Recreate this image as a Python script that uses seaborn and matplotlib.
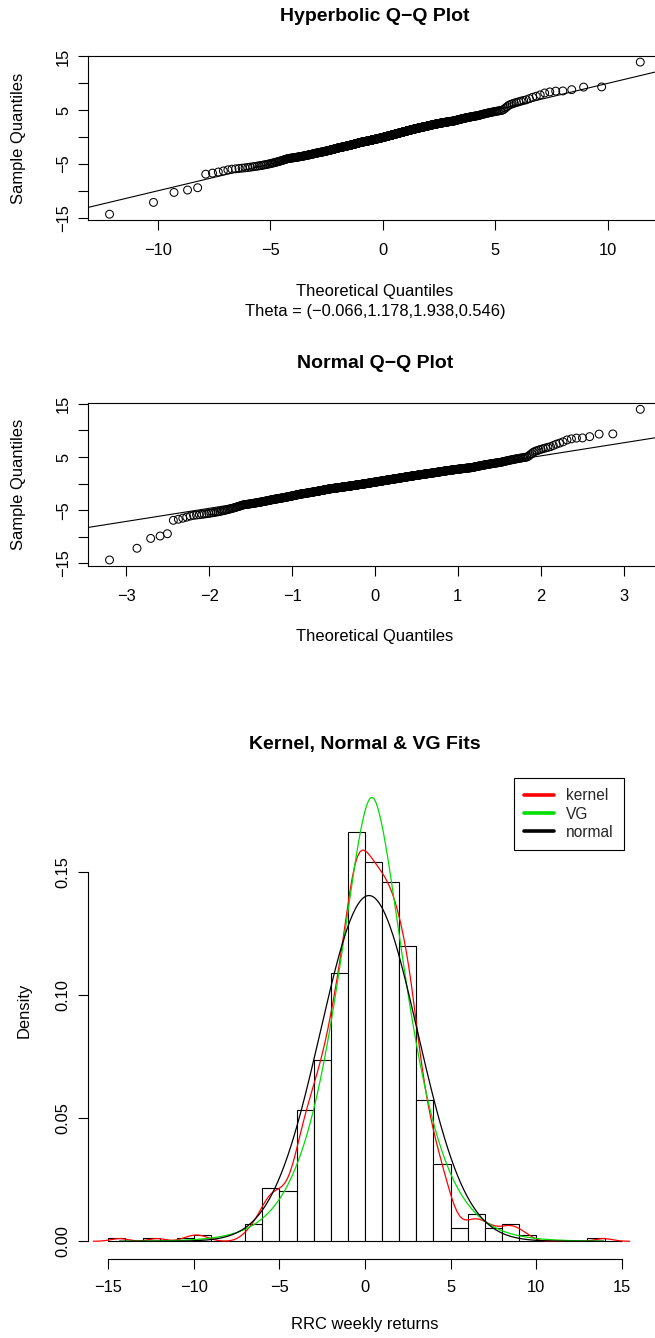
import math
from statistics import NormalDist

import numpy as np
import pandas as pd
import matplotlib
matplotlib.use("Agg")
import matplotlib.pyplot as plt
from matplotlib.lines import Line2D
import seaborn as sns

# ------------------------------------------------------------------ data
# weekly returns: counts per unit bin in the body (bins -7..7)
core_edges = [-7, -6, -5, -4, -3, -2, -1, 0, 1, 2, 3, 4, 5, 6, 7]
core_counts = [5, 16, 15, 39, 54, 80, 122, 113, 107, 88, 42, 23, 4, 8]
left_tail = [-14.35, -12.15, -10.3, -9.85, -9.42]
right_tail = [7.15, 7.4, 7.6, 7.85, 8.2, 8.4, 8.55, 8.58, 8.82, 9.3, 9.33, 13.95]

hyperb_theta = [-0.066, 1.178, 1.938, 0.546]      # (pi, zeta, delta, mu)
theta_label = "Theta = (\u22120.066,1.178,1.938,0.546)"
vg_params = [0.40, 2.70, 0.0, 0.45]               # (c, sigma, theta, nu)
kernel_bw_adjust = 0.85

hist_breaks = list(range(-15, 16))
hyp_xticks = [-10, -5, 0, 5, 10]
norm_xticks = [-3, -2, -1, 0, 1, 2, 3]
qq_yticks = [-15, -10, -5, 0, 5, 10, 15]
qq_ylabels = ["\u221215", "", "\u22125", "", "5", "", "15"]
hist_xticks = [-15, -10, -5, 0, 5, 10, 15]
hist_yticks = [0.0, 0.05, 0.10, 0.15]
hist_ylabels = ["0.00", "0.05", "0.10", "0.15"]
legend_labels = ["kernel", "VG", "normal"]
legend_colors = ["#FF0000", "#00DD00", "#000000"]

# ------------------------------------------------------------------ sample
core = []
for lo, cnt in zip(core_edges[:-1], core_counts):
    core += [lo + (k + 0.5) / cnt for k in range(cnt)]
sample = np.sort(np.array(left_tail + core + right_tail))
n = len(sample)
pp = (np.arange(1, n + 1) - 0.5) / n

# normal theoretical quantiles
nd = NormalDist()
zq = np.array([nd.inv_cdf(v) for v in pp])

# hyperbolic theoretical quantiles (numerical CDF inversion)
pi_, zeta, delta, mu = hyperb_theta
gam = zeta / delta
beta = pi_ * gam
alpha = math.hypot(gam, beta)
xg = np.linspace(-90, 90, 360001)
logf = -alpha * np.sqrt(delta ** 2 + (xg - mu) ** 2) + beta * (xg - mu)
fg = np.exp(logf - logf.max())
cdf = np.concatenate([[0.0], np.cumsum((fg[1:] + fg[:-1]) / 2 * np.diff(xg))])
cdf /= cdf[-1]
hq = np.interp(pp, cdf, xg)

# normal qqline through quartiles
q1, q3 = np.quantile(sample, [0.25, 0.75])
z1, z3 = nd.inv_cdf(0.25), nd.inv_cdf(0.75)
qq_slope = (q3 - q1) / (z3 - z1)
qq_int = q1 - qq_slope * z1

# density fits
xs = np.linspace(sample.min(), sample.max(), 600)
m, sd = sample.mean(), sample.std(ddof=1)
norm_pdf = np.exp(-0.5 * ((xs - m) / sd) ** 2) / (sd * math.sqrt(2 * math.pi))

c, sig, th, nu = vg_params
kshape = 1.0 / nu
g = np.linspace(1e-6, 15, 8000)
gpdf = np.exp((kshape - 1) * np.log(g) - g / nu - math.lgamma(kshape) - kshape * math.log(nu))
dens = np.exp(-(xs[:, None] - c - th * g[None, :]) ** 2 / (2 * sig ** 2 * g[None, :])) / np.sqrt(
    2 * np.pi * sig ** 2 * g[None, :])
vg_pdf = np.trapezoid(dens * gpdf[None, :], g, axis=1)

iqr = q3 - q1
bw = 0.9 * min(sd, iqr / 1.34) * n ** (-0.2)
bw_factor = bw / sd

df = pd.DataFrame({"ret": sample, "hq": hq, "zq": zq})
fits = pd.DataFrame({"x": xs, "normal": norm_pdf, "VG": vg_pdf})

# ------------------------------------------------------------------ figure
sns.set_style("ticks")
plt.rcParams["font.family"] = ["Liberation Sans", "DejaVu Sans"]
plt.rcParams["axes.unicode_minus"] = True

W, H = 655, 1338
fig = plt.figure(figsize=(W / 100, H / 100), dpi=100)
FS = 11.9
TFS = 14.0


def axes_px(x0, x1, y0, y1):
    return fig.add_axes([x0 / W, 1 - y1 / H, (x1 - x0) / W, (y1 - y0) / H])


def ftext(x, y, s, **kw):
    fig.text(x / W, 1 - y / H, s, ha="center", va="center", fontsize=kw.pop("fontsize", FS), color="black", **kw)


def style_qq(ax, xticks):
    for sp in ax.spines.values():
        sp.set_visible(True)
        sp.set_color("black")
        sp.set_linewidth(0.8)
    ax.set_xticks(xticks)
    ax.set_xticklabels([f"{t:g}".replace("-", "\u2212") for t in xticks])
    ax.set_yticks(qq_yticks)
    ax.set_yticklabels(qq_ylabels, rotation=90, va="center")
    ax.tick_params(axis="both", direction="out", length=7, width=0.8, colors="black", labelsize=FS)
    ax.tick_params(axis="x", pad=9.5)
    ax.tick_params(axis="y", pad=5.5)
    ax.set_xlabel("")
    ax.set_ylabel("")
    ax.grid(False)


def pad4(lo, hi):
    d = (hi - lo) * 0.04
    return lo - d, hi + d


# ---- Hyperbolic Q-Q
ax1 = axes_px(88.3, 661.5, 56, 220.3)
sns.scatterplot(data=df, x="hq", y="ret", ax=ax1, marker="o", s=32, linewidth=0.75)
ax1.collections[-1].set_facecolor("none")
ax1.collections[-1].set_edgecolor("black")
ax1.axline((0, 0), slope=1, color="black", lw=0.8)
ax1.set_xlim(*pad4(hq.min(), hq.max()))
ax1.set_ylim(*pad4(sample.min(), sample.max()))
style_qq(ax1, hyp_xticks)

# ---- Normal Q-Q
ax2 = axes_px(88.3, 661.5, 403.3, 566)
sns.scatterplot(data=df, x="zq", y="ret", ax=ax2, marker="o", s=32, linewidth=0.75)
ax2.collections[-1].set_facecolor("none")
ax2.collections[-1].set_edgecolor("black")
ax2.axline((0, qq_int), slope=qq_slope, color="black", lw=0.8)
ax2.set_xlim(*pad4(zq.min(), zq.max()))
ax2.set_ylim(*pad4(sample.min(), sample.max()))
style_qq(ax2, norm_xticks)

# ---- Histogram with fits
ax3 = axes_px(87.8, 642.2, 780.5, 1259)
sns.histplot(data=df, x="ret", bins=hist_breaks, stat="density", color="white",
             edgecolor="black", linewidth=0.8, alpha=1, ax=ax3)
sns.kdeplot(data=df, x="ret", bw_method=bw_factor, bw_adjust=kernel_bw_adjust, cut=3,
            color=legend_colors[0], lw=0.9, ax=ax3)
sns.lineplot(data=fits, x="x", y="VG", color=legend_colors[1], lw=0.9, ax=ax3, sort=False, estimator=None)
sns.lineplot(data=fits, x="x", y="normal", color=legend_colors[2], lw=0.9, ax=ax3, sort=False, estimator=None)
ax3.set_xlim(-16.2, 16.2)
ax3.set_ylim(-0.0072, 0.1872)
for s in ["top", "right"]:
    ax3.spines[s].set_visible(False)
ax3.spines["left"].set_bounds(0, 0.15)
ax3.spines["bottom"].set_bounds(-15, 15)
for s in ["left", "bottom"]:
    ax3.spines[s].set_color("black")
    ax3.spines[s].set_linewidth(0.8)
ax3.set_xticks(hist_xticks)
ax3.set_xticklabels([f"{t:g}".replace("-", "\u2212") for t in hist_xticks])
ax3.set_yticks(hist_yticks)
ax3.set_yticklabels(hist_ylabels, rotation=90, va="center")
ax3.tick_params(axis="both", direction="out", length=7, width=0.8, colors="black", labelsize=FS)
ax3.tick_params(axis="x", pad=8)
ax3.tick_params(axis="y", pad=5.5)
ax3.set_xlabel("")
ax3.set_ylabel("")
ax3.grid(False)

handles = [Line2D([], [], color=col, lw=2.6) for col in legend_colors]
leg = ax3.legend(handles, legend_labels, loc="upper right",
                 bbox_to_anchor=(624 / W, 1 - 778.3 / H), bbox_transform=fig.transFigure,
                 borderaxespad=0, fontsize=11.2, frameon=True, fancybox=False, framealpha=1,
                 edgecolor="black", handlelength=1.95, handletextpad=0.78, labelspacing=0.2,
                 borderpad=0.65)
leg.get_frame().set_linewidth(0.8)

# ---- texts
ftext(375, 16.7, "Hyperbolic Q\u2212Q Plot", fontsize=TFS, fontweight="bold")
ftext(375, 291.7, "Theoretical Quantiles")
ftext(375, 311.7, theta_label)
ftext(18.3, 138, "Sample Quantiles", rotation=90)

ftext(375, 363.3, "Normal Q\u2212Q Plot", fontsize=TFS, fontweight="bold")
ftext(375, 636.7, "Theoretical Quantiles")
ftext(18.3, 484.7, "Sample Quantiles", rotation=90)

ftext(365, 745, "Kernel, Normal & VG Fits", fontsize=TFS, fontweight="bold")
ftext(365, 1325, "RRC weekly returns")
ftext(24, 1010, "Density", rotation=90)

fig.savefig("out.png", dpi=100)
